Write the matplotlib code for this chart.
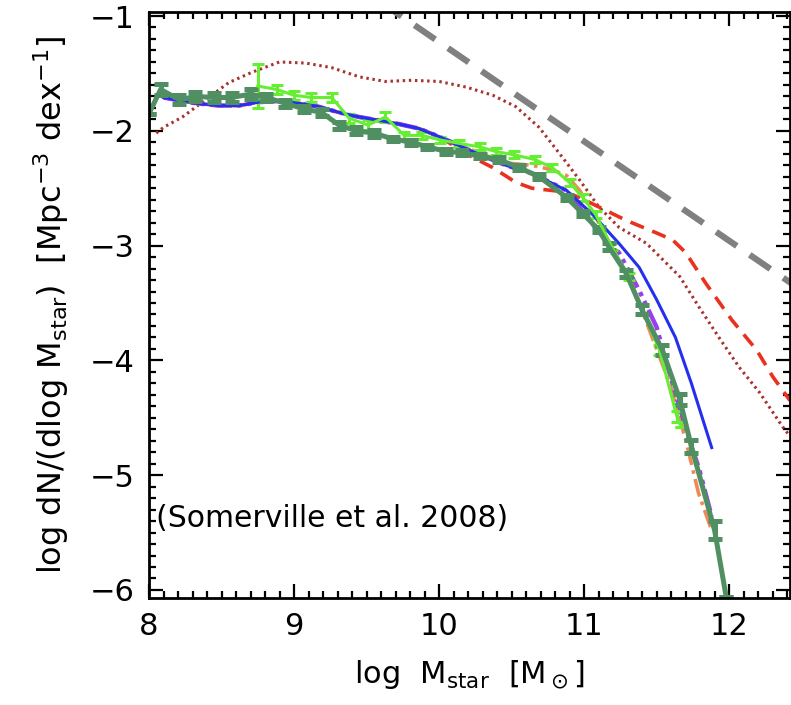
import matplotlib
matplotlib.use("Agg")
import matplotlib.pyplot as plt
from matplotlib.ticker import MultipleLocator

plt.rcParams['mathtext.fontset'] = 'dejavusans'

# dark green: observed mass function (thick, with error bars)
obs_x = [8.0, 8.08, 8.21, 8.32, 8.45, 8.57, 8.70, 8.81, 8.94, 9.07, 9.19, 9.31, 9.43, 9.55,
         9.68, 9.81, 9.92, 10.05, 10.16, 10.28, 10.41, 10.55, 10.69, 10.88, 10.99, 11.10,
         11.17, 11.29, 11.40, 11.54, 11.66, 11.74, 11.90, 11.98]
obs_y = [-1.85, -1.64, -1.73, -1.70, -1.71, -1.71, -1.68, -1.71, -1.76, -1.81, -1.84, -1.95,
         -2.00, -2.02, -2.07, -2.10, -2.14, -2.18, -2.19, -2.22, -2.25, -2.32, -2.40, -2.58,
         -2.72, -2.86, -3.01, -3.24, -3.56, -3.91, -4.34, -4.75, -5.48, -6.06]
obs_err = [0.0, 0.05, 0.04, 0.04, 0.04, 0.04, 0.04, 0.03, 0.03, 0.03, 0.03, 0.03, 0.03, 0.03,
           0.02, 0.02, 0.02, 0.02, 0.02, 0.02, 0.02, 0.02, 0.02, 0.02, 0.02, 0.02, 0.03, 0.03,
           0.04, 0.04, 0.05, 0.06, 0.08, 0.0]

# light green: second observed set
obs2_x = [8.75, 8.88, 9.00, 9.12, 9.26, 9.38, 9.51, 9.63, 9.76, 9.88, 10.01, 10.14, 10.28,
          10.39, 10.52, 10.66, 10.78, 10.90, 10.99, 11.08, 11.19, 11.31, 11.40, 11.52, 11.64, 11.67]
obs2_y = [-1.61, -1.64, -1.69, -1.71, -1.71, -1.89, -1.95, -1.88, -2.04, -2.04, -2.08, -2.11,
          -2.14, -2.18, -2.21, -2.25, -2.32, -2.45, -2.58, -2.73, -3.01, -3.27, -3.56, -3.91,
          -4.49, -4.58]
obs2_err = [0.19, 0.04, 0.04, 0.04, 0.04, 0.04, 0.04, 0.04, 0.03, 0.03, 0.03, 0.03, 0.03,
            0.03, 0.03, 0.03, 0.03, 0.03, 0.03, 0.03, 0.03, 0.03, 0.04, 0.04, 0.05, 0.0]

# blue solid model
blue_x = [8.10, 8.32, 8.48, 8.62, 8.76, 8.90, 9.03, 9.17, 9.31, 9.45, 9.59, 9.72, 9.86, 10.00,
          10.23, 10.46, 10.64, 10.88, 11.06, 11.24, 11.38, 11.50, 11.63, 11.74, 11.88]
blue_y = [-1.71, -1.76, -1.78, -1.78, -1.75, -1.74, -1.76, -1.79, -1.84, -1.88, -1.91, -1.94,
          -1.98, -2.05, -2.18, -2.30, -2.37, -2.52, -2.73, -2.98, -3.19, -3.47, -3.80, -4.20, -4.76]

# purple dash-dot model
purple_x = [8.10, 8.32, 8.48, 8.62, 8.76, 8.90, 9.03, 9.17, 9.31, 9.45, 9.59, 9.72, 9.86, 10.00,
            10.23, 10.46, 10.64, 10.88, 11.10, 11.24, 11.38, 11.50, 11.61, 11.74, 11.79, 11.88]
purple_y = [-1.71, -1.76, -1.78, -1.78, -1.75, -1.74, -1.76, -1.79, -1.84, -1.88, -1.91, -1.94,
            -1.98, -2.05, -2.18, -2.30, -2.37, -2.52, -2.88, -3.06, -3.39, -3.71, -4.20, -4.75,
            -4.93, -5.36]

# red dashed model
red_x = [8.10, 8.32, 8.48, 8.62, 8.76, 8.90, 9.03, 9.17, 9.31, 9.45, 9.59, 9.72, 9.86, 10.00,
         10.23, 10.37, 10.53, 10.64, 10.85, 10.97, 11.08, 11.29, 11.50, 11.61, 11.70, 11.84,
         12.02, 12.19, 12.30, 12.42]
red_y = [-1.71, -1.76, -1.78, -1.78, -1.75, -1.74, -1.76, -1.79, -1.84, -1.88, -1.91, -1.94,
         -1.98, -2.05, -2.23, -2.32, -2.45, -2.50, -2.53, -2.58, -2.65, -2.78, -2.89, -2.95,
         -3.06, -3.33, -3.65, -3.91, -4.14, -4.35]

# orange dash-dot model
orange_x = [8.10, 8.32, 8.48, 8.62, 8.76, 8.90, 9.03, 9.17, 9.31, 9.45, 9.59, 9.72, 9.86, 10.00,
            10.23, 10.46, 10.64, 10.78, 10.88, 10.97, 11.08, 11.19, 11.33, 11.47, 11.59, 11.70,
            11.79, 11.88]
orange_y = [-1.71, -1.76, -1.78, -1.78, -1.75, -1.74, -1.76, -1.79, -1.84, -1.88, -1.91, -1.94,
            -1.98, -2.05, -2.17, -2.28, -2.30, -2.34, -2.39, -2.52, -2.75, -3.01, -3.33, -3.80,
            -4.20, -4.69, -5.16, -5.48]

# brown dotted model
dot_x = [8.05, 8.10, 8.23, 8.39, 8.55, 8.71, 8.90, 9.08, 9.26, 9.45, 9.63, 9.81, 10.00, 10.19,
         10.37, 10.53, 10.69, 10.85, 10.97, 11.10, 11.24, 11.43, 11.66, 11.79, 11.93, 12.07,
         12.21, 12.37, 12.42]
dot_y = [-2.02, -1.97, -1.88, -1.73, -1.58, -1.49, -1.40, -1.41, -1.45, -1.53, -1.57, -1.56,
         -1.57, -1.62, -1.69, -1.79, -1.97, -2.23, -2.43, -2.66, -2.84, -2.98, -3.27, -3.53,
         -3.80, -4.06, -4.28, -4.58, -4.66]

# gray dashed reference slope
slope_x = [9.6, 12.5]
slope_y = [-0.88, -3.39]

fig = plt.figure(figsize=(7.91, 7.05), dpi=100)
ax = fig.add_axes([149 / 791, 107 / 705, 641 / 791, 586 / 705])

ax.plot(slope_x, slope_y, color='#808080', lw=4.5, ls=(0, (4, 2.5)))
ax.plot(dot_x, dot_y, color='#a8322c', lw=2.2, ls=(0, (0.8, 1.2)))
ax.plot(red_x, red_y, color='#e8321e', lw=2.6, ls=(0, (4, 2.5)))
ax.plot(orange_x, orange_y, color='#ee8a58', lw=2.6, ls=(0, (5, 1.5, 1, 1.5)))
ax.plot(purple_x, purple_y, color='#9a3ef0', lw=3.2, ls=(0, (5, 1.2, 1, 1.2, 1, 1.2)))
ax.errorbar(obs2_x, obs2_y, yerr=obs2_err, color='#66ee33', lw=2.2, elinewidth=2.2,
            capsize=4, capthick=2.2)
ax.plot(blue_x, blue_y, color='#2430ee', lw=2.2)
ax.errorbar(obs_x, obs_y, yerr=obs_err, color='#4f8f62', lw=3.6, elinewidth=3.6,
            capsize=5, capthick=3.6)

ax.text(8.05, -5.38, '(Somerville et al. 2008)', fontsize=21.5, va='center', ha='left')

ax.set_xlim(8.0, 12.42)
ax.set_ylim(-6.07, -0.965)
ax.xaxis.set_major_locator(MultipleLocator(1))
ax.xaxis.set_minor_locator(MultipleLocator(0.1))
ax.yaxis.set_major_locator(MultipleLocator(1))
ax.yaxis.set_minor_locator(MultipleLocator(0.1))
ax.tick_params(which='both', direction='in', top=True, right=True, width=1.6)
ax.tick_params(which='major', length=10, labelsize=22, pad=10)
ax.tick_params(which='minor', length=5)
ax.yaxis.set_major_formatter(plt.FuncFormatter(lambda v, p: '\u2212%d' % abs(v) if v < 0 else '%d' % v))
for s in ax.spines.values():
    s.set_linewidth(2)

ax.set_xlabel(r'log  M$_{\rm star}$  [M$_\odot$]', fontsize=22, labelpad=12)
ax.set_ylabel(r'log dN/(dlog M$_{\rm star}$)  [Mpc$^{-3}$ dex$^{-1}$]', fontsize=23, labelpad=14)

fig.savefig('out.png', dpi=100)
